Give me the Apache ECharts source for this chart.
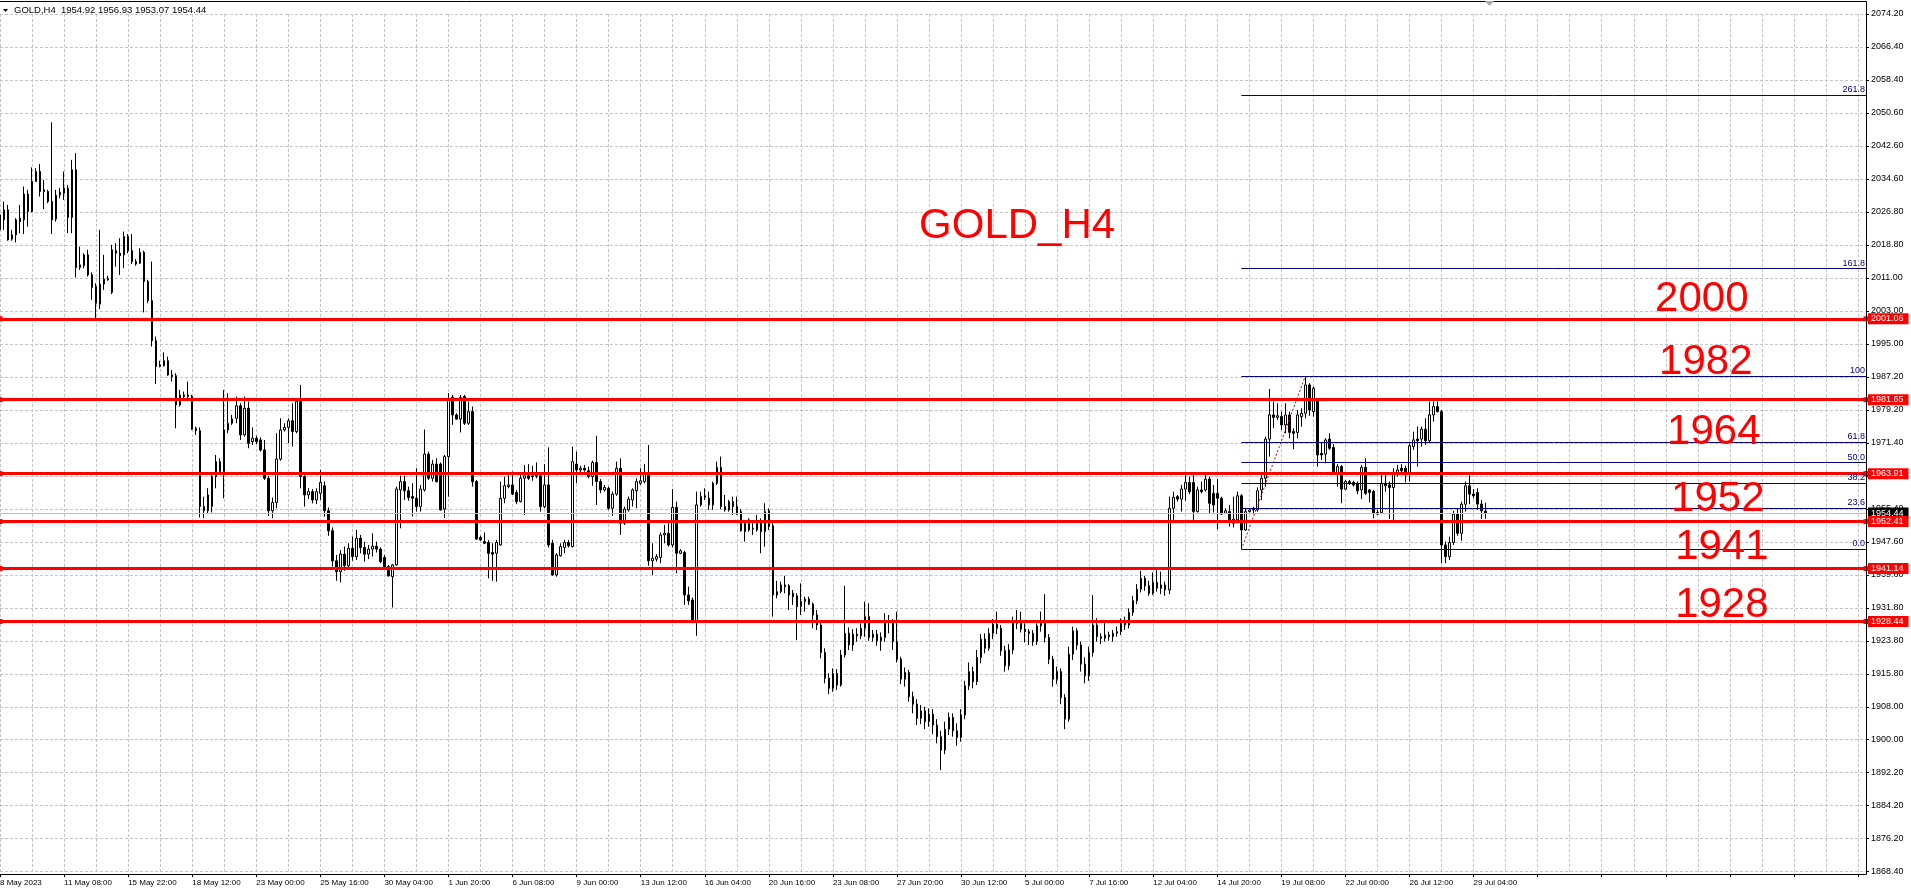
<!DOCTYPE html>
<html><head><meta charset="utf-8">
<script src="https://cdn.jsdelivr.net/npm/echarts@6/dist/echarts.min.js"></script>
<style>html,body{margin:0;padding:0;background:#fff;overflow:hidden}#c{width:1911px;height:895px}</style>
</head><body><div id="c"></div>
<script>
// ---------- data ----------
const symbolName = 'GOLD,H4';
const lastQuote = [1954.92, 1956.93, 1953.07, 1954.44]; // O H L C
const timeLabels = ['8 May 2023','11 May 08:00','15 May 22:00','18 May 12:00','23 May 00:00','25 May 16:00','30 May 04:00','1 Jun 20:00','6 Jun 08:00','9 Jun 00:00','13 Jun 12:00','16 Jun 04:00','20 Jun 16:00','23 Jun 08:00','27 Jun 20:00','30 Jun 12:00','5 Jul 00:00','7 Jul 16:00','12 Jul 04:00','14 Jul 20:00','19 Jul 08:00','22 Jul 00:00','26 Jul 12:00','29 Jul 04:00'];
const barsPerLabel = 16;
const barsPerGrid = 8;
const slotCount = 467;
const priceTicks = ['1868.40','1876.20','1884.20','1892.20','1900.00','1908.00','1915.80','1923.80','1931.80','1939.60','1947.60','1955.40','1963.40','1971.40','1979.20','1987.20','1995.00','2003.00','2011.00','2018.80','2026.80','2034.60','2042.60','2050.60','2058.40','2066.40','2074.20'];
// H4 candles: [open, high, low, close]
const candles = [
[2022.4,2028.8,2021.0,2026.0],[2024.8,2029.2,2022.4,2027.2],[2027.2,2028.4,2019.8,2020.0],[2020.2,2022.4,2019.8,2021.2],[2021.2,2025.2,2019.4,2024.8],
[2025.2,2028.4,2021.6,2024.4],[2024.8,2032.8,2021.4,2031.0],[2031.0,2032.0,2023.2,2026.8],[2026.8,2037.4,2026.6,2034.0],[2034.0,2037.2,2034.0,2036.4],
[2036.4,2038.2,2030.4,2031.6],[2032.0,2034.4,2027.4,2031.6],[2031.6,2032.0,2028.8,2029.2],[2029.2,2048.2,2021.4,2024.8],[2025.0,2032.0,2024.4,2030.7],
[2030.8,2032.5,2030.0,2031.4],[2031.2,2036.4,2029.6,2032.4],[2032.4,2033.2,2021.6,2025.4],[2025.4,2039.2,2021.6,2036.8],[2036.8,2040.8,2011.0,2013.4],
[2013.4,2018.4,2012.8,2014.0],[2013.8,2016.8,2013.2,2016.4],[2016.4,2017.6,2011.2,2011.6],[2011.6,2012.2,2005.6,2008.6],[2008.8,2009.6,2000.8,2004.8],
[2004.6,2022.4,2003.4,2009.4],[2009.4,2016.4,2008.0,2010.6],[2010.4,2011.4,2010.2,2010.8],[2007.4,2018.8,2007.0,2017.6],[2017.4,2019.2,2013.6,2016.8],
[2016.8,2020.4,2011.6,2016.2],[2016.4,2022.0,2013.2,2020.8],[2020.8,2021.4,2016.8,2017.4],[2017.4,2021.4,2014.2,2014.8],[2014.8,2015.4,2013.8,2014.2],
[2014.4,2018.0,2014.2,2017.0],[2017.0,2017.4,2002.6,2010.0],[2010.0,2010.4,2004.8,2005.4],[2005.4,2014.8,1994.4,1995.8],[1995.8,1996.8,1985.4,1989.6],
[1989.6,1991.0,1989.4,1990.0],[1989.8,1993.0,1989.6,1991.0],[1991.0,1992.0,1987.4,1987.6],[1987.6,1988.8,1986.0,1987.2],[1987.4,1988.0,1974.8,1980.4],
[1980.4,1984.0,1980.0,1982.8],[1982.4,1983.6,1982.0,1982.8],[1982.8,1986.0,1981.4,1982.4],[1982.4,1982.8,1974.4,1974.6],[1974.8,1975.2,1973.2,1974.2],
[1974.2,1975.0,1953.4,1956.0],[1956.0,1958.4,1953.2,1955.0],[1955.0,1960.4,1954.2,1958.8],[1956.0,1963.6,1954.6,1963.2],[1963.2,1968.4,1960.4,1966.8],
[1964.4,1967.6,1963.6,1966.8],[1964.4,1984.0,1958.0,1974.4],[1974.4,1983.2,1973.6,1976.0],[1976.0,1978.0,1975.6,1977.0],[1977.2,1982.4,1976.0,1980.2],
[1980.2,1980.8,1972.0,1973.2],[1973.2,1982.4,1972.8,1979.6],[1979.6,1981.2,1970.0,1971.2],[1971.6,1975.0,1970.8,1972.4],[1972.4,1973.0,1971.0,1971.6],
[1972.0,1972.6,1969.2,1969.6],[1969.6,1972.0,1962.4,1962.8],[1962.8,1963.4,1953.8,1955.0],[1955.0,1958.2,1953.2,1957.0],[1957.0,1973.6,1955.6,1967.4],
[1967.4,1977.2,1967.0,1974.4],[1974.4,1976.0,1974.0,1975.0],[1975.0,1977.2,1971.2,1976.6],[1976.6,1980.8,1970.4,1974.0],[1974.0,1981.6,1973.6,1981.2],
[1981.2,1985.2,1960.4,1963.2],[1963.2,1964.0,1956.0,1958.8],[1958.8,1960.4,1957.8,1959.6],[1959.6,1960.2,1956.8,1957.6],[1957.6,1960.4,1956.6,1959.6],
[1959.2,1964.8,1957.6,1961.8],[1961.0,1962.0,1953.6,1955.0],[1955.0,1955.8,1949.0,1950.2],[1950.2,1951.0,1941.6,1943.0],[1943.0,1944.4,1938.2,1940.4],
[1940.4,1945.6,1937.8,1944.6],[1944.6,1946.4,1940.6,1941.8],[1941.8,1947.2,1941.0,1946.0],[1946.0,1948.8,1943.0,1944.0],[1944.0,1950.4,1943.2,1948.4],
[1948.4,1949.2,1944.8,1946.2],[1946.2,1947.6,1942.8,1944.6],[1944.6,1946.8,1943.4,1945.8],[1945.8,1949.6,1944.0,1946.5],[1946.5,1947.6,1945.0,1945.8],
[1945.8,1946.2,1942.4,1942.8],[1943.8,1944.4,1941.2,1941.6],[1941.6,1942.0,1939.2,1939.4],[1939.2,1942.2,1931.8,1942.0],[1942.0,1960.8,1941.8,1960.2],
[1960.0,1963.4,1950.8,1962.0],[1962.0,1963.4,1957.6,1959.8],[1959.8,1960.8,1957.4,1958.2],[1958.4,1961.6,1953.6,1958.0],[1958.0,1965.2,1954.8,1956.0],
[1956.0,1961.2,1954.8,1960.2],[1960.0,1974.5,1959.6,1968.6],[1968.6,1969.2,1962.4,1962.8],[1962.8,1967.2,1962.0,1966.2],[1966.2,1967.6,1961.8,1962.0],
[1966.2,1966.6,1955.0,1955.2],[1955.4,1968.4,1953.2,1968.0],[1968.0,1983.2,1958.4,1981.7],[1982.2,1982.8,1975.6,1978.0],[1978.0,1978.4,1976.8,1977.0],
[1977.0,1982.8,1973.8,1982.2],[1982.4,1982.8,1975.6,1976.0],[1976.0,1981.2,1975.6,1978.8],[1978.8,1980.0,1960.8,1962.0],[1962.0,1962.4,1948.0,1948.2],
[1948.6,1949.0,1947.8,1948.0],[1947.6,1949.8,1947.0,1947.2],[1947.4,1948.0,1938.8,1944.8],[1945.0,1947.2,1938.2,1944.6],[1944.8,1948.0,1938.0,1947.4],
[1946.8,1962.0,1946.6,1958.0],[1958.0,1963.2,1956.8,1961.0],[1960.8,1963.6,1960.4,1961.2],[1961.2,1964.4,1958.8,1959.0],[1959.4,1960.0,1956.6,1957.2],
[1957.2,1963.6,1957.0,1962.8],[1962.8,1966.0,1954.0,1963.4],[1963.4,1966.2,1962.4,1962.8],[1963.2,1965.8,1962.2,1963.4],[1963.3,1966.6,1962.8,1963.5],
[1963.4,1964.2,1954.8,1956.0],[1956.0,1966.2,1955.6,1961.2],[1961.2,1970.2,1946.2,1946.8],[1947.2,1948.0,1939.4,1939.6],[1939.6,1944.8,1939.2,1944.4],
[1944.2,1947.2,1944.0,1946.4],[1946.2,1948.0,1944.8,1947.4],[1947.4,1948.0,1946.2,1946.6],[1946.4,1970.4,1946.2,1966.8],[1966.2,1969.2,1961.6,1964.8],
[1964.8,1965.8,1964.0,1965.2],[1965.2,1966.0,1964.4,1964.8],[1964.6,1965.6,1962.8,1963.2],[1963.2,1967.0,1961.0,1966.6],[1966.6,1973.0,1956.4,1962.0],
[1962.0,1962.6,1959.2,1960.0],[1960.0,1961.2,1959.6,1960.6],[1960.4,1960.8,1955.2,1955.6],[1955.6,1959.6,1953.8,1959.0],[1959.0,1966.8,1958.6,1965.2],
[1965.2,1967.6,1949.2,1952.0],[1952.0,1956.0,1951.6,1955.4],[1955.2,1958.4,1954.8,1957.8],[1957.6,1960.4,1956.0,1960.0],[1959.8,1962.8,1955.6,1962.0],
[1961.6,1965.2,1961.2,1962.2],[1962.0,1966.2,1961.6,1964.0],[1964.0,1970.8,1941.8,1943.0],[1943.0,1947.2,1939.6,1943.6],[1943.4,1944.6,1942.8,1944.0],
[1943.8,1949.8,1942.4,1949.2],[1949.2,1951.6,1947.2,1949.6],[1949.6,1952.0,1946.4,1946.8],[1946.8,1960.2,1946.2,1955.8],[1955.8,1957.2,1940.0,1944.8],
[1944.8,1945.8,1944.6,1945.4],[1945.0,1945.4,1932.4,1934.8],[1934.8,1936.8,1932.4,1933.4],[1933.6,1934.2,1928.0,1928.4],[1928.4,1959.6,1925.0,1956.4],
[1956.4,1959.6,1956.0,1958.4],[1958.2,1960.4,1957.6,1958.6],[1958.0,1959.6,1955.2,1956.4],[1956.4,1962.0,1955.2,1961.6],[1961.6,1966.8,1961.2,1965.4],
[1965.4,1968.0,1955.4,1956.0],[1956.0,1958.8,1954.8,1955.2],[1955.2,1957.6,1954.8,1957.2],[1956.0,1958.4,1954.0,1957.2],[1956.0,1958.4,1954.0,1954.2],
[1954.8,1955.4,1950.0,1950.2],[1950.0,1952.8,1947.6,1952.0],[1952.8,1953.2,1950.0,1950.4],[1950.6,1952.0,1949.2,1950.8],[1950.4,1954.0,1950.0,1952.4],
[1952.4,1953.2,1944.8,1950.0],[1950.0,1956.8,1946.4,1954.8],[1955.0,1955.6,1950.4,1951.2],[1951.4,1952.0,1929.6,1934.8],[1934.8,1938.2,1934.0,1935.6],
[1935.6,1938.0,1935.2,1937.2],[1937.2,1939.4,1935.2,1936.8],[1937.0,1937.4,1931.2,1934.8],[1935.2,1936.0,1932.4,1934.4],[1934.6,1935.2,1924.0,1932.0],
[1932.0,1937.6,1930.0,1933.2],[1933.2,1934.4,1930.8,1933.8],[1933.8,1934.4,1932.4,1932.6],[1932.6,1933.0,1926.8,1930.0],[1930.0,1931.2,1926.4,1927.6],
[1927.6,1928.2,1919.6,1921.0],[1921.0,1922.0,1913.6,1914.8],[1914.8,1916.0,1911.0,1912.4],[1912.4,1917.2,1911.6,1916.0],[1916.0,1917.0,1912.0,1913.2],
[1913.2,1921.6,1912.8,1920.4],[1920.4,1937.0,1919.8,1925.6],[1925.6,1927.0,1921.6,1922.8],[1922.8,1926.6,1921.4,1925.4],[1925.4,1926.8,1923.6,1925.0],
[1925.0,1928.0,1924.2,1926.8],[1926.8,1933.2,1924.8,1929.6],[1929.6,1932.8,1923.8,1924.6],[1924.6,1926.4,1923.6,1925.4],[1925.4,1926.4,1922.6,1923.8],
[1923.8,1925.8,1921.4,1924.6],[1924.6,1930.4,1923.6,1928.2],[1928.2,1930.0,1925.6,1928.4],[1928.4,1929.0,1921.6,1923.6],[1923.6,1930.8,1918.6,1919.4],
[1919.4,1920.0,1913.4,1914.6],[1914.6,1917.4,1912.8,1916.2],[1916.2,1916.8,1909.2,1910.4],[1910.4,1911.6,1906.4,1908.6],[1908.6,1909.8,1903.6,1905.2],
[1905.2,1908.4,1903.8,1907.0],[1907.0,1908.0,1902.6,1904.4],[1904.4,1907.6,1903.2,1906.2],[1906.2,1907.4,1901.4,1903.6],[1903.6,1905.0,1899.2,1900.8],
[1900.8,1902.2,1892.8,1897.6],[1897.6,1904.4,1896.6,1902.6],[1902.6,1906.6,1901.2,1905.4],[1905.4,1906.4,1900.8,1902.2],[1902.2,1904.0,1898.6,1900.6],
[1900.6,1907.4,1899.6,1906.0],[1906.0,1914.2,1905.0,1913.0],[1913.0,1918.6,1912.0,1916.4],[1916.4,1917.6,1912.4,1914.0],[1914.0,1921.6,1913.2,1919.8],
[1919.8,1925.4,1918.4,1924.2],[1924.2,1925.6,1920.8,1922.0],[1922.0,1926.8,1921.4,1925.6],[1925.6,1929.0,1924.2,1927.8],[1927.8,1930.8,1925.4,1926.8],
[1926.8,1927.6,1920.2,1921.4],[1921.4,1922.6,1916.4,1917.8],[1917.8,1923.0,1916.8,1921.6],[1921.6,1929.6,1920.6,1928.6],[1928.6,1931.2,1926.6,1928.0],
[1928.0,1930.8,1925.8,1926.6],[1926.6,1928.0,1923.4,1926.0],[1926.0,1926.6,1922.8,1925.6],[1925.6,1926.4,1922.6,1923.6],[1923.6,1928.0,1922.8,1927.4],
[1927.4,1930.8,1926.0,1928.0],[1928.0,1935.0,1923.4,1924.6],[1924.6,1925.4,1918.2,1919.4],[1919.4,1920.2,1912.8,1914.6],[1914.6,1917.6,1913.4,1916.4],
[1916.4,1917.2,1908.6,1910.2],[1910.2,1911.0,1902.6,1905.0],[1905.0,1922.4,1904.4,1920.6],[1920.6,1927.2,1919.2,1926.2],[1926.2,1926.8,1921.6,1922.8],
[1922.8,1923.6,1916.4,1918.2],[1918.2,1919.8,1913.6,1915.4],[1915.4,1922.4,1914.2,1921.0],[1921.0,1934.8,1920.0,1927.6],[1927.6,1929.2,1923.6,1924.8],
[1924.8,1925.6,1923.0,1924.4],[1924.4,1928.6,1923.6,1925.2],[1925.2,1926.0,1923.8,1924.8],[1924.8,1926.4,1923.6,1925.6],[1925.6,1927.2,1924.8,1926.0],
[1926.0,1929.2,1925.2,1928.4],[1928.4,1929.6,1926.4,1927.6],[1927.6,1931.6,1926.8,1930.6],[1930.6,1934.6,1929.8,1933.4],[1933.4,1937.4,1932.6,1936.2],
[1936.2,1940.6,1935.4,1938.8],[1938.8,1939.4,1935.8,1937.0],[1937.0,1938.2,1934.6,1935.2],[1935.2,1940.2,1934.8,1937.8],[1937.8,1940.8,1935.6,1936.4],
[1936.4,1940.4,1935.0,1937.2],[1937.2,1938.0,1934.6,1936.0],[1936.0,1958.4,1935.0,1955.6],[1955.6,1959.6,1952.8,1958.2],[1958.4,1958.8,1957.2,1957.8],
[1957.8,1961.2,1954.8,1960.2],[1960.2,1963.6,1957.4,1961.8],[1961.8,1963.2,1959.0,1959.6],[1961.8,1963.6,1952.8,1954.8],[1954.8,1960.8,1954.6,1960.0],
[1960.0,1962.0,1959.2,1959.6],[1960.0,1963.6,1959.6,1962.6],[1962.6,1963.2,1954.2,1956.8],[1959.2,1961.2,1954.6,1956.4],[1959.2,1962.6,1950.6,1958.0],
[1958.0,1958.4,1954.0,1954.2],[1954.4,1955.6,1954.2,1955.0],[1954.8,1956.4,1951.2,1952.8],[1952.0,1958.4,1951.0,1953.0],[1952.8,1959.6,1952.0,1958.6],
[1958.6,1959.0,1945.7,1950.4],[1950.4,1955.4,1950.2,1954.8],[1954.8,1955.6,1954.6,1955.2],[1955.6,1956.0,1954.2,1955.2],[1955.2,1960.6,1954.8,1959.8],
[1960.0,1963.6,1957.6,1962.8],[1962.8,1972.8,1960.8,1972.2],[1972.2,1984.2,1968.0,1978.0],[1978.0,1981.2,1974.8,1977.4],[1977.4,1980.8,1976.8,1977.8],
[1977.6,1978.8,1974.4,1975.6],[1975.6,1980.8,1973.6,1978.0],[1978.0,1978.8,1972.4,1973.8],[1974.0,1974.8,1969.8,1973.6],[1973.8,1979.2,1972.4,1978.0],
[1977.6,1979.6,1975.2,1978.4],[1978.4,1987.3,1977.2,1985.2],[1985.2,1985.6,1977.8,1979.2],[1978.8,1984.8,1977.6,1984.4],[1981.6,1982.0,1965.6,1968.4],
[1968.8,1971.4,1967.2,1968.4],[1968.6,1972.4,1966.4,1972.0],[1972.2,1973.6,1969.6,1970.0],[1970.2,1971.0,1964.2,1964.4],[1964.2,1966.2,1960.8,1965.6],
[1965.6,1966.0,1956.8,1960.2],[1960.2,1962.4,1960.0,1962.0],[1962.0,1962.4,1961.2,1961.6],[1961.8,1962.2,1960.8,1961.2],[1961.6,1962.0,1959.0,1959.8],
[1960.0,1966.0,1957.8,1965.4],[1965.4,1967.6,1958.8,1959.2],[1960.0,1960.2,1957.0,1959.4],[1959.6,1960.0,1953.2,1954.4],[1954.6,1955.2,1954.0,1954.2],
[1954.6,1963.6,1954.2,1961.6],[1961.6,1963.6,1959.6,1961.0],[1961.2,1962.0,1953.0,1960.6],[1960.6,1965.2,1952.2,1964.2],[1964.2,1966.0,1963.2,1964.8],
[1965.2,1966.2,1963.6,1964.6],[1965.2,1965.8,1961.8,1963.6],[1964.2,1971.2,1962.0,1970.6],[1970.4,1974.0,1969.6,1972.0],[1972.2,1975.2,1965.6,1971.8],
[1972.2,1975.2,1970.4,1974.6],[1974.6,1977.2,1970.8,1971.8],[1971.8,1981.2,1971.2,1978.0],[1978.0,1981.2,1976.4,1980.0],[1980.0,1981.2,1978.6,1978.8],
[1978.8,1979.2,1942.4,1946.8],[1946.8,1947.6,1942.4,1944.0],[1944.0,1948.8,1943.2,1947.4],[1947.4,1955.0,1946.8,1954.2],[1954.2,1955.6,1949.0,1949.6],
[1949.6,1957.2,1947.8,1956.6],[1956.6,1962.0,1954.8,1961.0],[1961.0,1963.6,1956.6,1959.0],[1959.0,1960.2,1958.0,1958.6],[1959.4,1960.4,1955.2,1956.6],
[1956.6,1957.6,1953.0,1955.0],[1954.92,1956.93,1953.07,1954.44]
];
const levelPrices = [2001.06, 1981.65, 1963.91, 1952.41, 1941.14, 1928.44];
const noteTexts = ['GOLD_H4', '2000', '1982', '1964', '1952', '1941', '1928'];
const noteBars = [254, 425, 425.5, 427.5, 428.5, 430, 429.5];
const notePrices = [2023.3, 2005.7, 1990.5, 1973.8, 1957.7, 1946.2, 1932.4];
const fibLow = 1945.72, fibHigh = 1987.35, fibLowBar = 310, fibHighBar = 326;
const fibRatios = [0, 0.236, 0.382, 0.5, 0.618, 1, 1.618, 2.618];
const fibNames = ['0.0', '23.6', '38.2', '50.0', '61.8', '100', '161.8', '261.8'];
const bidPrice = 1954.44;

// ---------- chart ----------
const FONT = '"Liberation Sans", Arial, sans-serif';
const slots = Array.from({length: slotCount}, (_, i) => String(i));
const yMin = parseFloat(priceTicks[0]);
const yMax = parseFloat(priceTicks[priceTicks.length - 1]);
const yStep = (yMax - yMin) / (priceTicks.length - 1);
const lastSlot = slotCount - 1;

const chart = echarts.init(document.getElementById('c'), null, {renderer: 'canvas'});

const redLevelLines = levelPrices.map(v => ({
  yAxis: v,
  lineStyle: {color: '#ff0000', width: 3, type: 'solid'},
  label: {show: true, position: 'end', formatter: v.toFixed(2), color: '#ffffff', backgroundColor: '#ff0000',
          fontSize: 9, fontFamily: FONT, padding: [1, 5, 1, 3], distance: 2}
}));

const fibLines = fibRatios.map((r, i) => {
  const p = fibLow + r * (fibHigh - fibLow);
  const st = {
    lineStyle: {color: '#000080', width: 1, type: 'solid'},
    label: {show: true, position: 'insideEndTop', formatter: fibNames[i], color: '#000080', fontSize: 9, fontFamily: FONT, distance: 1}
  };
  return [Object.assign({coord: [fibLowBar, p]}, st), Object.assign({coord: [lastSlot, p]}, st)];
});
const trendLine = [
  {coord: [fibLowBar, fibLow], lineStyle: {color: '#a01010', width: 1, type: [2, 2]}, label: {show: false}},
  {coord: [fibHighBar, fibHigh], lineStyle: {color: '#a01010', width: 1, type: [2, 2]}, label: {show: false}}
];
const bidLine = {
  yAxis: bidPrice,
  lineStyle: {color: '#c0c0c0', width: 1, type: 'solid'},
  label: {show: true, position: 'end', formatter: bidPrice.toFixed(2), color: '#ffffff', backgroundColor: '#000000',
          fontSize: 9, fontFamily: FONT, padding: [1, 5, 1, 3], distance: 2}
};

const option = {
  animation: false,
  backgroundColor: '#ffffff',
  textStyle: {fontFamily: FONT},
  grid: {left: 0, right: 45, top: 14, bottom: 23.3, containLabel: false, outerBoundsMode: 'none'},
  xAxis: {
    type: 'category', data: slots, boundaryGap: false, offset: 2.3,
    axisLine: {show: true, lineStyle: {color: '#000000', width: 1}},
    axisTick: {show: true, interval: barsPerLabel - 1, length: 3, lineStyle: {color: '#000000'}},
    axisLabel: {show: true, interval: barsPerLabel - 1, align: 'left', margin: 5, fontSize: 8, color: '#000000', fontFamily: FONT,
      formatter: (v, i) => (i % barsPerLabel === 0 ? (timeLabels[i / barsPerLabel] || '') : '')},
    splitLine: {show: true, interval: barsPerGrid - 1, lineStyle: {color: '#c4c4c4', width: 1, type: [3, 2]}}
  },
  yAxis: {
    type: 'value', position: 'right', min: yMin, max: yMax, interval: yStep, scale: true,
    axisLine: {show: true, lineStyle: {color: '#000000', width: 1}},
    axisTick: {show: true, length: 3, lineStyle: {color: '#000000'}},
    axisLabel: {show: true, margin: 5, fontSize: 9, color: '#000000', fontFamily: FONT,
      formatter: v => priceTicks[Math.round((v - yMin) / yStep)] || ''},
    splitLine: {show: true, lineStyle: {color: '#c4c4c4', width: 1, type: [3, 2]}}
  },
  series: [
    {
      type: 'line', data: [], silent: true, z: 1,
      markLine: {silent: true, symbol: 'none', animation: false, data: [bidLine].concat(fibLines).concat([trendLine])},
      markPoint: {
        silent: true, animation: false, symbol: 'circle', symbolSize: 0,
        itemStyle: {color: 'rgba(0,0,0,0)'},
        data: noteTexts.map((t, i) => ({
          name: t, coord: [noteBars[i], notePrices[i]], symbolSize: 0,
          label: {show: true, position: 'inside', formatter: t, color: '#ff0000', fontSize: 42, fontFamily: FONT}
        }))
      }
    },
    {
      type: 'candlestick', name: symbolName, silent: true, z: 2,
      barWidth: 2,
      data: candles.map(c => [c[0], c[3], c[2], c[1]]),
      itemStyle: {color: '#ffffff', color0: '#000000', borderColor: '#000000', borderColor0: '#000000', borderWidth: 1},
      markLine: {silent: true, symbol: ['rect', 'rect'], symbolSize: 5, animation: false, data: redLevelLines}
    }
  ],
  graphic: [
    {type: 'polyline', silent: true, z: 50, shape: {points: [[0, 1.5], [1866.5, 1.5], [1866.5, 874.5]]}, style: {stroke: '#000000', lineWidth: 1, fill: null}},
    {type: 'polygon', silent: true, z: 50, shape: {points: [[3, 9], [8, 9], [5.5, 12]]}, style: {fill: '#000000'}},
    {type: 'polygon', silent: true, z: 50, shape: {points: [[1485, 1], [1494, 1], [1489.5, 6]]}, style: {fill: '#a8a8a8'}},
    {type: 'text', silent: true, z: 50, left: 14, top: 5,
     style: {text: symbolName + '  ' + lastQuote.map(v => v.toFixed(2)).join(' '), font: '9.5px ' + FONT, fill: '#000000'}}
  ]
};
chart.setOption(option);
</script>
</body></html>
